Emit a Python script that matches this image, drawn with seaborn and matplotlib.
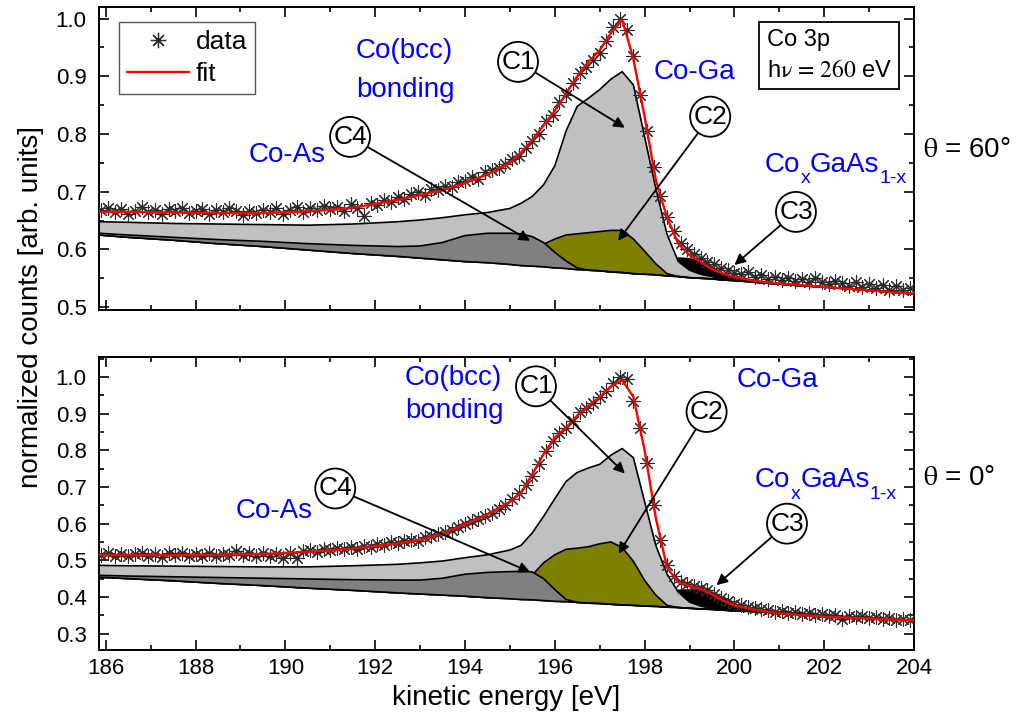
import numpy as np
import matplotlib
matplotlib.use("Agg")
import matplotlib.pyplot as plt
from matplotlib.lines import Line2D
from matplotlib.ticker import MultipleLocator, FormatStrFormatter
import seaborn as sns

sns.set_theme(style="ticks")
plt.rcParams["font.family"] = ["Liberation Sans", "DejaVu Sans"]
plt.rcParams["text.color"] = "black"

# ---- fit model sampled on a common kinetic-energy grid (eV) ----
energy_grid = [185.85, 186.5, 187.5, 188.5, 189.5, 190.5, 191.5, 192.5, 193.0, 193.5,
               194.0, 194.5, 195.0, 195.25, 195.5, 195.75, 196.0, 196.25, 196.5, 196.75,
               197.0, 197.25, 197.5, 197.75, 198.0, 198.25, 198.5, 198.75, 199.0, 199.25,
               199.5, 199.75, 200.0, 200.5, 201.0, 201.5, 202.0, 203.0, 204.0]

# theta = 60 deg : background and component heights above background
bg_60 = [0.625, 0.621, 0.616, 0.610, 0.605, 0.599, 0.593, 0.588, 0.585, 0.582,
         0.579, 0.577, 0.574, 0.572, 0.571, 0.570, 0.568, 0.567, 0.565, 0.564,
         0.563, 0.561, 0.560, 0.558, 0.557, 0.556, 0.554, 0.553, 0.551, 0.550,
         0.549, 0.547, 0.546, 0.543, 0.540, 0.537, 0.535, 0.529, 0.523]
c1_60 = [0.023, 0.026, 0.029, 0.034, 0.038, 0.043, 0.051, 0.060, 0.066, 0.073,
         0.081, 0.087, 0.097, 0.108, 0.121, 0.142, 0.177, 0.238, 0.283, 0.298,
         0.314, 0.334, 0.348, 0.327, 0.238, 0.149, 0.072, 0.026, 0.013, 0.007,
         0.004, 0.002, 0.001, 0.0, 0.0, 0.0, 0.0, 0.0, 0.0]
c2_60 = [0.0, 0.0, 0.0, 0.0, 0.0, 0.0, 0.0, 0.0, 0.0, 0.0,
         0.0, 0.001, 0.006, 0.014, 0.026, 0.039, 0.050, 0.058, 0.062, 0.065,
         0.068, 0.072, 0.073, 0.060, 0.040, 0.019, 0.004, 0.0, 0.0, 0.0,
         0.0, 0.0, 0.0, 0.0, 0.0, 0.0, 0.0, 0.0, 0.0]
c3_60 = [0.0, 0.0, 0.0, 0.0, 0.0, 0.0, 0.0, 0.0, 0.0, 0.0,
         0.0, 0.0, 0.0, 0.0, 0.0, 0.0, 0.0, 0.0, 0.0, 0.0,
         0.0, 0.0, 0.0, 0.0, 0.0, 0.015, 0.026, 0.032, 0.033, 0.028,
         0.020, 0.011, 0.005, 0.0, 0.0, 0.0, 0.0, 0.0, 0.0]
c4_60 = [0.003, 0.004, 0.005, 0.007, 0.009, 0.011, 0.014, 0.017, 0.021, 0.030,
         0.045, 0.051, 0.054, 0.055, 0.051, 0.042, 0.027, 0.013, 0.003, 0.0,
         0.0, 0.0, 0.0, 0.0, 0.0, 0.0, 0.0, 0.0, 0.0, 0.0,
         0.0, 0.0, 0.0, 0.0, 0.0, 0.0, 0.0, 0.0, 0.0]
fit_60 = [0.665, 0.665, 0.664, 0.663, 0.663, 0.666, 0.672, 0.686, 0.694, 0.703,
          0.715, 0.730, 0.750, 0.768, 0.790, 0.815, 0.840, 0.870, 0.900, 0.925,
          0.945, 0.975, 0.998, 0.930, 0.830, 0.720, 0.655, 0.610, 0.590, 0.578,
          0.566, 0.558, 0.552, 0.545, 0.541, 0.538, 0.535, 0.529, 0.523]

# theta = 0 deg
bg_0 = [0.454, 0.450, 0.444, 0.437, 0.431, 0.424, 0.418, 0.411, 0.408, 0.405,
        0.402, 0.398, 0.395, 0.393, 0.392, 0.390, 0.388, 0.387, 0.385, 0.383,
        0.382, 0.380, 0.378, 0.377, 0.375, 0.374, 0.372, 0.371, 0.369, 0.367,
        0.366, 0.364, 0.362, 0.360, 0.356, 0.352, 0.349, 0.342, 0.336]
c1_0 = [0.032, 0.035, 0.040, 0.046, 0.051, 0.058, 0.067, 0.078, 0.085, 0.093,
        0.105, 0.117, 0.133, 0.148, 0.183, 0.230, 0.280, 0.328, 0.355, 0.369,
        0.380, 0.407, 0.427, 0.403, 0.285, 0.166, 0.090, 0.042, 0.017, 0.008,
        0.003, 0.0, 0.0, 0.0, 0.0, 0.0, 0.0, 0.0, 0.0]
c2_0 = [0.0, 0.0, 0.0, 0.0, 0.0, 0.0, 0.0, 0.0, 0.0, 0.0,
        0.0, 0.0, 0.010, 0.035, 0.068, 0.103, 0.127, 0.143, 0.148, 0.154,
        0.163, 0.170, 0.157, 0.120, 0.070, 0.031, 0.005, 0.0, 0.0, 0.0,
        0.0, 0.0, 0.0, 0.0, 0.0, 0.0, 0.0, 0.0, 0.0]
c3_0 = [0.0, 0.0, 0.0, 0.0, 0.0, 0.0, 0.0, 0.0, 0.0, 0.0,
        0.0, 0.0, 0.0, 0.0, 0.0, 0.0, 0.0, 0.0, 0.0, 0.0,
        0.0, 0.0, 0.0, 0.0, 0.0, 0.022, 0.038, 0.047, 0.050, 0.051,
        0.045, 0.033, 0.018, 0.0, 0.0, 0.0, 0.0, 0.0, 0.0]
c4_0 = [0.005, 0.007, 0.011, 0.016, 0.020, 0.025, 0.029, 0.035, 0.038, 0.046,
        0.060, 0.069, 0.074, 0.077, 0.076, 0.060, 0.032, 0.006, 0.0, 0.0,
        0.0, 0.0, 0.0, 0.0, 0.0, 0.0, 0.0, 0.0, 0.0, 0.0,
        0.0, 0.0, 0.0, 0.0, 0.0, 0.0, 0.0, 0.0, 0.0]
fit_0 = [0.514, 0.514, 0.514, 0.515, 0.517, 0.523, 0.532, 0.546, 0.556, 0.573,
         0.598, 0.625, 0.660, 0.685, 0.735, 0.790, 0.835, 0.862, 0.895, 0.922,
         0.946, 0.975, 0.992, 0.946, 0.800, 0.615, 0.480, 0.440, 0.430, 0.422,
         0.407, 0.390, 0.377, 0.364, 0.355, 0.350, 0.346, 0.341, 0.336]

# ---- measured spectra, 0.15 eV steps from 185.90 to 203.90 eV ----
data_energy = np.linspace(185.90, 203.90, 121)
data_60 = [0.668, 0.672, 0.664, 0.670, 0.662, 0.667, 0.673, 0.665, 0.668, 0.661,
           0.670, 0.666, 0.672, 0.663, 0.667, 0.670, 0.661, 0.668, 0.664, 0.671,
           0.666, 0.660, 0.667, 0.663, 0.669, 0.665, 0.672, 0.662, 0.669, 0.674,
           0.664, 0.671, 0.668, 0.676, 0.670, 0.673, 0.667, 0.678, 0.672, 0.658,
           0.681, 0.677, 0.686, 0.683, 0.690, 0.687, 0.696, 0.699, 0.694, 0.705,
           0.703, 0.710, 0.708, 0.716, 0.718, 0.725, 0.722, 0.734, 0.737, 0.741,
           0.748, 0.756, 0.762, 0.775, 0.788, 0.800, 0.822, 0.833, 0.855, 0.868,
           0.889, 0.905, 0.916, 0.928, 0.940, 0.962, 0.985, 1.000, 0.980, 0.935,
           0.868, 0.805, 0.742, 0.693, 0.656, 0.632, 0.611, 0.600, 0.592, 0.586,
           0.578, 0.574, 0.567, 0.565, 0.560, 0.557, 0.561, 0.553, 0.556, 0.549,
           0.553, 0.547, 0.551, 0.545, 0.548, 0.543, 0.550, 0.544, 0.540, 0.546,
           0.541, 0.537, 0.543, 0.535, 0.540, 0.533, 0.538, 0.530, 0.536, 0.529,
           0.534]
data_0 = [0.515, 0.520, 0.511, 0.518, 0.512, 0.517, 0.521, 0.513, 0.516, 0.510,
          0.519, 0.514, 0.520, 0.511, 0.517, 0.513, 0.519, 0.512, 0.518, 0.515,
          0.524, 0.514, 0.519, 0.513, 0.520, 0.512, 0.518, 0.505, 0.521, 0.507,
          0.524, 0.527, 0.522, 0.531, 0.527, 0.534, 0.530, 0.537, 0.532, 0.540,
          0.536, 0.544, 0.541, 0.549, 0.546, 0.552, 0.556, 0.553, 0.563, 0.566,
          0.572, 0.578, 0.584, 0.592, 0.598, 0.607, 0.612, 0.622, 0.630, 0.641,
          0.650, 0.668, 0.683, 0.705, 0.730, 0.762, 0.798, 0.825, 0.848, 0.860,
          0.880, 0.905, 0.915, 0.930, 0.945, 0.962, 0.985, 1.000, 0.995, 0.935,
          0.860, 0.765, 0.650, 0.555, 0.488, 0.458, 0.442, 0.435, 0.430, 0.425,
          0.418, 0.407, 0.397, 0.390, 0.382, 0.377, 0.373, 0.369, 0.366, 0.363,
          0.360, 0.362, 0.356, 0.359, 0.353, 0.356, 0.350, 0.354, 0.348, 0.351,
          0.339, 0.349, 0.344, 0.347, 0.342, 0.345, 0.340, 0.343, 0.338, 0.341,
          0.336]

x_ticks = [186, 188, 190, 192, 194, 196, 198, 200, 202, 204]

BLUE = "#0000ff"
ASTERISK = (8, 2, 0)
LINE_W = 1.2

fig = plt.figure(figsize=(10.19, 7.17), dpi=100)
ax_top = fig.add_axes([0.0972, 0.5676, 0.7998, 0.4226])
ax_bot = fig.add_axes([0.0972, 0.0934, 0.7998, 0.4087])


def draw_panel(ax, bg, c1, c2, c3, c4, fit, data):
    e = np.asarray(energy_grid)
    base = np.asarray(bg)
    # stacking order: C3 under C1, then C2, then C4 on top
    layers = [(c3, "#000000", 1.0), (c1, "#c0c0c0", 2.0),
              (c2, "#808000", 3.0), (c4, "#808080", 4.0)]
    for h, color, z in layers:
        top = base + np.asarray(h)
        ax.fill_between(e, base, top, color=color, lw=0, zorder=z)
        ax.plot(e, top, color="black", lw=LINE_W, zorder=z + 0.5)
    ax.plot(e, base, color="black", lw=LINE_W, zorder=4.6)
    sns.scatterplot(x=data_energy, y=data, marker=ASTERISK, s=95,
                    color="#2a2a2a", linewidth=0.8, ax=ax, zorder=5, legend=False)
    sns.lineplot(x=e, y=fit, color="red", lw=1.7, ax=ax, zorder=6,
                 sort=False, estimator=None)


draw_panel(ax_top, bg_60, c1_60, c2_60, c3_60, c4_60, fit_60, data_60)
draw_panel(ax_bot, bg_0, c1_0, c2_0, c3_0, c4_0, fit_0, data_0)

ax_top.set_ylim(0.495, 1.02)
ax_bot.set_ylim(0.255, 1.055)

for ax in (ax_top, ax_bot):
    ax.set_xlim(185.85, 204.0)
    ax.set_xticks(x_ticks)
    ax.xaxis.set_minor_locator(MultipleLocator(1))
    ax.yaxis.set_major_locator(MultipleLocator(0.1))
    ax.yaxis.set_minor_locator(MultipleLocator(0.05))
    ax.yaxis.set_major_formatter(FormatStrFormatter("%.1f"))
    ax.tick_params(which="both", direction="in", top=True, right=True,
                   width=1.2, color="black", labelsize=16, labelcolor="black")
    ax.tick_params(which="major", length=7)
    ax.tick_params(which="minor", length=3.5)
    ax.tick_params(axis="y", which="major", pad=9)
    ax.tick_params(axis="x", which="major", pad=6)
    ax.set_xlabel("")
    ax.set_ylabel("")
    for s in ax.spines.values():
        s.set_linewidth(1.4)
        s.set_color("black")
    ax.set_facecolor("white")
ax_top.tick_params(labelbottom=False)

fig.text(0.030, 0.572, "normalized counts [arb. units]", rotation=90,
         ha="center", va="center", fontsize=20)
fig.text(0.4966, 0.0265, "kinetic energy [eV]", ha="center", va="center", fontsize=20)
fig.text(0.906, 0.791, r"$\mathrm{\theta}$ = 60°", ha="left", va="center", fontsize=20,
         math_fontfamily="stix")
fig.text(0.906, 0.333, r"$\mathrm{\theta}$ = 0°", ha="left", va="center", fontsize=20,
         math_fontfamily="stix")

# legend
handles = [Line2D([], [], marker=ASTERISK, ls="none", color="#2a2a2a", ms=11, mew=0.9),
           Line2D([], [], color="red", lw=1.7)]
leg = ax_top.legend(handles, ["data", "fit"], loc="upper left",
                    bbox_to_anchor=(0.0245, 0.9505), fontsize=19, frameon=True,
                    fancybox=False, edgecolor="#555555", framealpha=1,
                    borderpad=0.3, handlelength=2.35, handletextpad=0.25,
                    labelspacing=0.3, borderaxespad=0)
leg.get_frame().set_linewidth(1.0)
leg.set_zorder(10)

# info box
ax_top.text(0.819, 0.84, "Co 3p\n" + r"h$\mathrm{\nu}\,=\,\mathrm{260}$ eV",
            transform=ax_top.transAxes, ha="left", va="center", fontsize=17,
            linespacing=1.5, math_fontfamily="stix", zorder=10,
            bbox=dict(boxstyle="square,pad=0.3", fc="white", ec="black", lw=1.3))


def blue(ax, x, y, s):
    ax.text(x, y, s, color=BLUE, fontsize=20, ha="left", va="center", zorder=9)


def alloy_label(ax, x, y):
    t1 = ax.text(x, y, "Co", color=BLUE, fontsize=20, ha="left", va="baseline", zorder=9)
    t2 = ax.annotate("x", xy=(1, -0.05), xycoords=t1, color=BLUE, fontsize=14,
                     ha="left", va="center", zorder=9)
    t3 = ax.annotate("GaAs", xy=(1, 0), xycoords=(t2, t1), color=BLUE, fontsize=20,
                     ha="left", va="bottom", zorder=9)
    ax.annotate("1-x", xy=(1, -0.05), xycoords=t3, color=BLUE, fontsize=14,
                ha="left", va="center", zorder=9)


def tag(ax, name, center, tip):
    ax.annotate(name, xy=tip, xytext=center, xycoords="data", textcoords="data",
                ha="center", va="center", fontsize=19, zorder=9,
                bbox=dict(boxstyle="circle,pad=0.12", fc="white", ec="black", lw=1.3),
                arrowprops=dict(arrowstyle="-|>", color="black", lw=1.3,
                                mutation_scale=16, shrinkA=0, shrinkB=0))


blue(ax_top, 191.57, 0.943, "Co(bcc)")
blue(ax_top, 191.57, 0.877, "bonding")
blue(ax_top, 198.19, 0.908, "Co-Ga")
blue(ax_top, 189.17, 0.764, "Co-As")
alloy_label(ax_top, 200.68, 0.735)
tag(ax_top, "C1", (195.18, 0.925), (197.56, 0.811))
tag(ax_top, "C4", (191.44, 0.795), (195.45, 0.615))
tag(ax_top, "C2", (199.46, 0.830), (197.41, 0.615))
tag(ax_top, "C3", (201.37, 0.665), (200.0, 0.573))

blue(ax_bot, 192.66, 0.997, "Co(bcc)")
blue(ax_bot, 192.66, 0.907, "bonding")
blue(ax_bot, 200.06, 0.992, "Co-Ga")
blue(ax_bot, 188.90, 0.634, "Co-As")
alloy_label(ax_bot, 200.46, 0.70)
tag(ax_bot, "C1", (195.58, 0.975), (197.56, 0.737))
tag(ax_bot, "C4", (191.11, 0.696), (195.45, 0.468))
tag(ax_bot, "C2", (199.38, 0.905), (197.42, 0.518))
tag(ax_bot, "C3", (201.17, 0.600), (199.60, 0.432))

fig.savefig("out.png", dpi=100, facecolor="white")
